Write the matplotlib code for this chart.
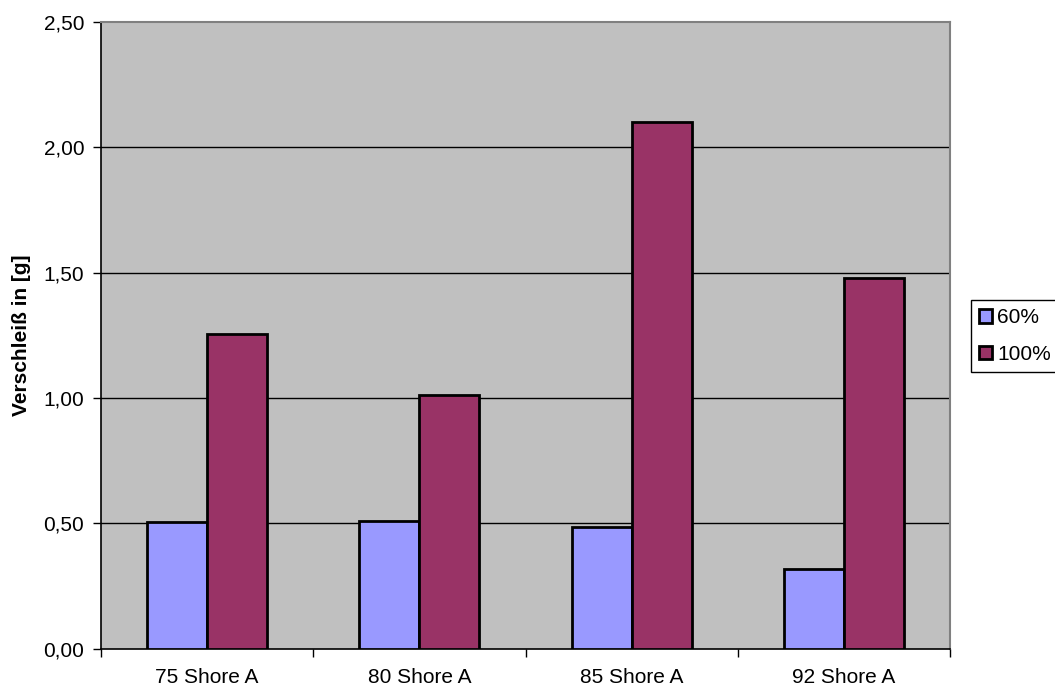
import matplotlib
matplotlib.use("Agg")
import matplotlib.pyplot as plt
import numpy as np

categories = ["75 Shore A", "80 Shore A", "85 Shore A", "92 Shore A"]
series_names = ["60%", "100%"]
values_60 = [0.506, 0.510, 0.486, 0.316]
values_100 = [1.255, 1.012, 2.100, 1.480]
y_ticks = [0.0, 0.5, 1.0, 1.5, 2.0, 2.5]
y_tick_labels = ["0,00", "0,50", "1,00", "1,50", "2,00", "2,50"]

plt.rcParams['font.family'] = ['Liberation Sans', 'DejaVu Sans']

fig = plt.figure(figsize=(10.55, 6.89), dpi=100)
ax = fig.add_axes([101/1055, 1 - 648.6/689, (950 - 101)/1055, (648.6 - 22)/689])
ax.set_facecolor("#C0C0C0")

x = np.arange(len(categories))
w = 0.283
ax.bar(x - w/2, values_60, width=w, color="#9999FF", edgecolor="black", linewidth=2, zorder=3, label=series_names[0])
ax.bar(x + w/2, values_100, width=w, color="#993366", edgecolor="black", linewidth=2, zorder=3, label=series_names[1])

ax.set_xlim(-0.5, len(categories) - 0.5)
ax.set_ylim(0, 2.5)
ax.set_yticks(y_ticks)
ax.set_yticklabels(y_tick_labels, fontsize=15)
for yv in y_ticks[1:-1]:
    ax.axhline(yv, color="black", linewidth=1, zorder=1)

ax.set_xticks(x)
ax.set_xticklabels(categories, fontsize=15)
ax.set_xticks(np.arange(len(categories) + 1) - 0.5, minor=True)
ax.tick_params(axis='x', which='major', length=0, pad=14)
ax.tick_params(axis='x', which='minor', length=6, width=1, color='black', direction='out')
ax.tick_params(axis='y', which='major', length=6, width=1, color='black', direction='out', pad=6)

for s in ["left", "bottom"]:
    ax.spines[s].set_color("black")
    ax.spines[s].set_linewidth(1.2)
for s in ["top", "right"]:
    ax.spines[s].set_color("#808080")
    ax.spines[s].set_linewidth(1.5)

ax.set_ylabel("Verschleiß in [g]", fontsize=15, fontweight="bold", labelpad=9)

leg = fig.legend(loc="upper left", bbox_to_anchor=(971/1055, 1 - 300/689), borderaxespad=0,
                 fontsize=15, frameon=True, fancybox=False, edgecolor="black", framealpha=1,
                 handlelength=0.6, handleheight=0.6, handletextpad=0.25, borderpad=0.4,
                 labelspacing=0.85)
leg.get_frame().set_linewidth(1)

fig.savefig("out.png", dpi=100, facecolor="white")
